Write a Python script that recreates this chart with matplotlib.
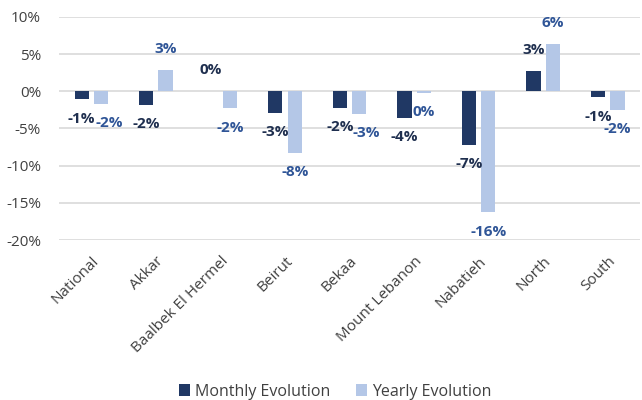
import matplotlib.pyplot as plt
import numpy as np

categories = ["National", "Akkar", "Baalbek El Hermel", "Beirut", "Bekaa",
              "Mount Lebanon", "Nabatieh", "North", "South"]
monthly = [-1.1, -1.8, 0.0, -2.9, -2.2, -3.6, -7.2, 2.7, -0.8]
yearly = [-1.7, 2.9, -2.3, -8.3, -3.0, -0.2, -16.3, 6.3, -2.5]
yticks = [-20, -15, -10, -5, 0, 5, 10]

plt.rcParams['font.family'] = ['Open Sans', 'DejaVu Sans']

navy = "#203864"
light = "#B4C7E7"
lab_monthly = "#1F2F4F"
lab_yearly = "#2F5597"

fig = plt.figure(figsize=(6.42, 4.0), dpi=100)
ax = fig.add_axes([0.092, 0.40, 0.905, 0.558])

x = np.arange(len(categories))
w = 0.22
off = 0.15
b1 = ax.bar(x - off, monthly, w, color=navy, label="Monthly Evolution", zorder=3)
b2 = ax.bar(x + off, yearly, w, color=light, label="Yearly Evolution", zorder=3)

# labels that crowd their neighbour get pushed a little to the right
nudge = {0: 6, 4: 5}

for k, (bars, vals, col) in enumerate([(b1, monthly, lab_monthly),
                                       (b2, yearly, lab_yearly)]):
    for i, (rect, v) in enumerate(zip(bars, vals)):
        dy = 15 if v >= 0 else -14
        dx = nudge.get(i, 0) if k == 1 else 0
        ax.annotate("%d%%" % round(v), (rect.get_x() + rect.get_width() / 2, v),
                    xytext=(dx, dy), textcoords="offset points",
                    ha="center", va="center", fontsize=11,
                    fontweight="bold", color=col, zorder=4)

ax.set_xlim(-0.5, len(categories) - 0.5)
ax.set_ylim(-20, 10)
ax.set_yticks(yticks)
ax.set_yticklabels(["%d%%" % t for t in yticks], fontsize=11, color="#404040")
ax.set_xticks(x)
ax.set_xticklabels(categories, rotation=45, ha="right", rotation_mode="anchor",
                   fontsize=11, color="#404040")
ax.tick_params(length=0)
ax.tick_params(axis="x", pad=10)
ax.tick_params(axis="y", pad=13)
ax.grid(axis="y", color="#D9D9D9", linewidth=1.2, zorder=0)
for s in ax.spines.values():
    s.set_visible(False)

fig.legend(loc="lower center", bbox_to_anchor=(0.522, -0.035), ncol=2, frameon=False,
           fontsize=11.5, handlelength=0.7, handleheight=0.7, handletextpad=0.3,
           columnspacing=1.6, labelcolor="#404040")

plt.savefig("out.png", dpi=100)
